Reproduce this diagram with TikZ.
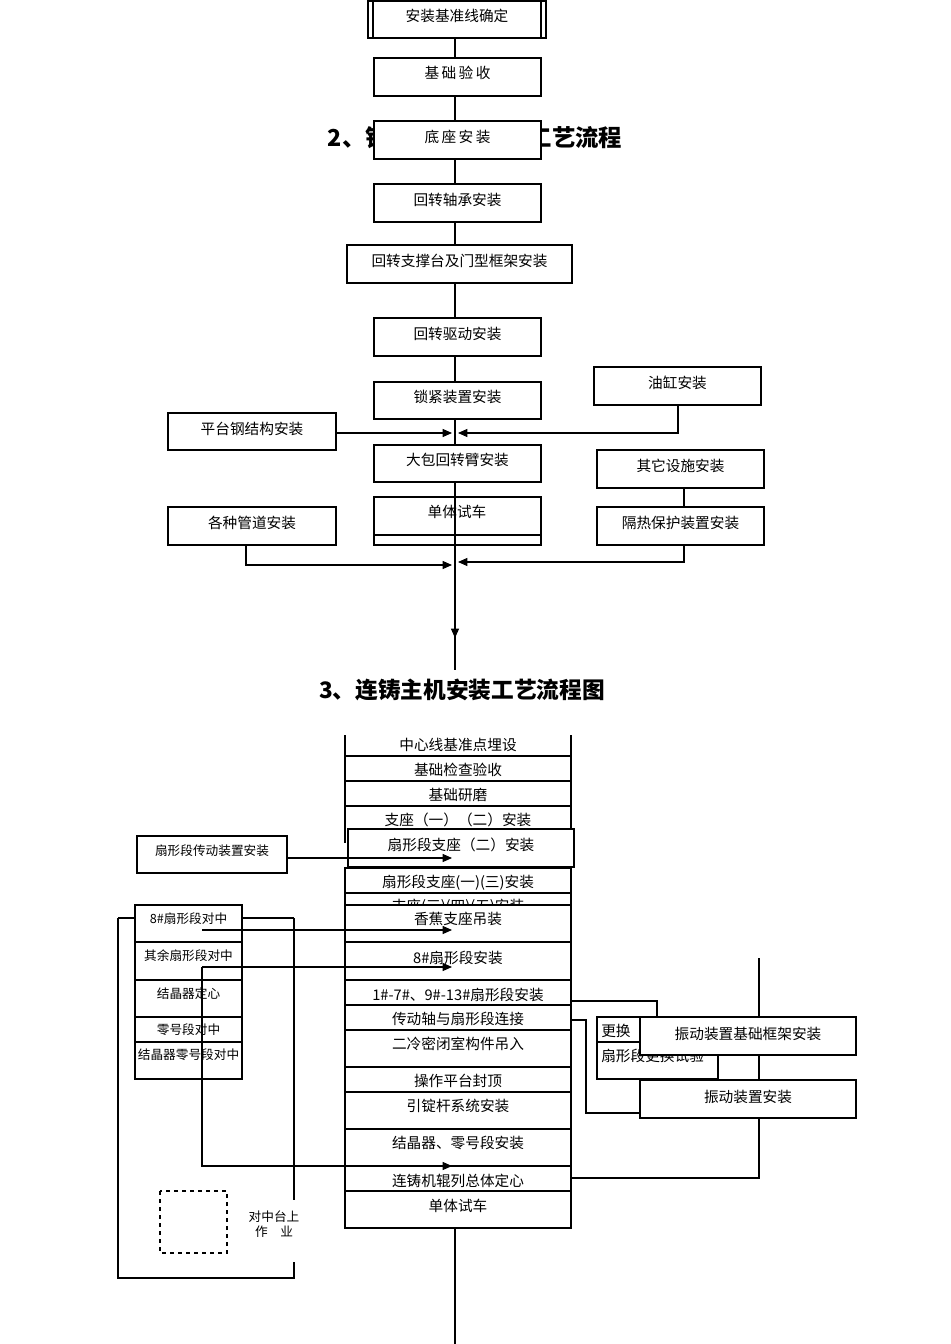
\documentclass[tikz,border=0pt]{standalone}
\usepackage{fontspec}
\setmainfont{Liberation Serif}
\newfontfamily\cjk{Noto Sans CJK SC}
\usetikzlibrary{arrows.meta}
\tikzset{
 bx/.style={draw,fill=white,line width=0.9pt},
 t/.style={font=\cjk\fontsize{11}{13}\selectfont,inner sep=0pt},
 ts/.style={font=\cjk\fontsize{9.5}{11}\selectfont,inner sep=0pt},
 ln/.style={line width=0.8pt},
 ar/.style={line width=0.8pt,-{Triangle[length=7pt,width=6pt]}},
}
\newcommand{\bxx}[7][t]{\draw[bx] (#3,#4) rectangle (#5,#6); \node[#1] (#2) at ({(#3+#5)/2},{(#4+#6)/2}) {#7};}
\newcommand{\bxt}[8][t]{\draw[bx] (#3,#4) rectangle (#5,#6); \node[#1] (#2) at ({(#3+#5)/2},#8) {#7};}
\begin{document}
\begin{tikzpicture}[x=0.75pt,y=-0.75pt]
\useasboundingbox (0,0) rectangle (950,1344);
% ---------- top section ----------
\draw[ln] (455,38) -- (455,670);
\node[font=\cjk\bfseries\fontsize{17.5}{19}\selectfont] (t2) at (475,137) {2、钢包回转台安装工艺流程};
\draw[bx] (368,1) rectangle (546,38); \draw[ln] (373,1) -- (373,38) (541,1) -- (541,38);
\node[t] (a1) at (457,16) {安装基准线确定};
\bxt{a2}{374}{58}{541}{96}{基\,础\,验\,收}{73}
\bxt{a3}{374}{121}{541}{159}{底\,座\,安\,装}{137}
\bxt{a4}{374}{184}{541}{222}{回转轴承安装}{200}
\bxt{a5}{347}{245}{572}{283}{回转支撑台及门型框架安装}{261}
\bxt{a6}{374}{318}{541}{356}{回转驱动安装}{334}
\bxt{a7}{374}{382}{541}{419}{锁紧装置安装}{397}
\bxt{b1}{594}{367}{761}{405}{油缸安装}{383}
\bxt{c1}{168}{413}{336}{450}{平台钢结构安装}{429}
\bxt{a8}{374}{445}{541}{482}{大包回转臂安装}{460}
\bxt{b2}{597}{450}{764}{488}{其它设施安装}{466}
\draw[bx] (374,497) rectangle (541,545); \draw[ln] (374,535) -- (541,535);
\node[t] (a9) at (457,512) {单体试车};
\bxt{c2}{168}{507}{336}{545}{各种管道安装}{523}
\bxt{b3}{597}{507}{764}{545}{隔热保护装置安装}{523}
\draw[ln] (455,482) -- (455,545);
\draw[ar] (336,433) -- (452,433);
\draw[ar] (678,405) -- (678,433) -- (458,433);
\draw[ln] (684,488) -- (684,507);
\draw[ar] (246,545) -- (246,565) -- (452,565);
\draw[ar] (684,545) -- (684,562) -- (458,562);
\draw[ar] (455,545) -- (455,638);
\node[font=\bfseries\cjk\fontsize{17}{19}\selectfont] (t3) at (462,690) {3、连铸主机安装工艺流程图};
% ---------- bottom section ----------
\draw[ln] (455,1228) -- (455,1344);
\draw[ln] (345,735) -- (345,843) (571,735) -- (571,843);
\foreach \y in {756,781,806} \draw[ln] (345,\y) -- (571,\y);
\node[t] (m1) at (458,745) {中心线基准点埋设};
\node[t] (m2) at (458,770) {基础检查验收};
\node[t] (m3) at (458,795) {基础研磨};
\node[t] (m4) at (458,820) {支座（一）（二）安装};
\bxt{m5}{348}{829}{574}{867}{扇形段支座（二）安装}{845}
\draw[bx] (345,868) rectangle (571,905); \draw[ln] (345,893) -- (571,893);
\node[t] (m6) at (458,883) {扇形段支座(一)(三)安装};
\begin{scope}\clip (345,893) rectangle (571,905);
\node[t] at (458,907) {支座(三)(四)(五)安装};\end{scope}
\bxt{m7}{345}{905}{571}{942}{香蕉支座吊装}{919}
\bxt{m8}{345}{942}{571}{980}{8\#扇形段安装}{958}
\bxt{m9}{345}{980}{571}{1005}{1\#-7\#、9\#-13\#扇形段安装}{995}
\bxt{m10}{345}{1005}{571}{1030}{传动轴与扇形段连接}{1019}
\bxt{m11}{345}{1030}{571}{1067}{二冷密闭室构件吊入}{1044}
\bxt{m12}{345}{1067}{571}{1092}{操作平台封顶}{1081}
\bxt{m13}{345}{1092}{571}{1129}{引锭杆系统安装}{1106}
\bxt{m14}{345}{1129}{571}{1166}{结晶器、零号段安装}{1143}
\bxt{m15}{345}{1166}{571}{1191}{连铸机辊列总体定心}{1181}
\bxt{m16}{345}{1191}{571}{1228}{单体试车}{1206}
% left
\bxt[ts]{l0}{137}{836}{287}{873}{扇形段传动装置安装}{851}
\draw[ar] (287,858) -- (452,858);
\draw[ln] (118,918) -- (135,918) (242,918) -- (294,918);
\draw[ln] (118,918) -- (118,1278) -- (294,1278) -- (294,1262);
\draw[ln] (294,918) -- (294,1200);
\bxt[ts]{l1}{135}{905}{242}{942}{8\#扇形段对中}{919}
\bxt[ts]{l2}{135}{942}{242}{980}{其余扇形段对中}{956}
\bxt[ts]{l3}{135}{980}{242}{1017}{结晶器定心}{994}
\bxt[ts]{l4}{135}{1017}{242}{1042}{零号段对中}{1030}
\bxt[ts]{l5}{135}{1042}{242}{1079}{结晶器零号段对中}{1055}
\draw[ar] (202,930) -- (452,930);
\draw[ar] (202,967) -- (452,967);
\draw[ar] (202,967) -- (202,1166) -- (452,1166);
\draw[line width=0.8pt,dashed] (160,1191) rectangle (227,1253);
\node[ts,align=center] (lab) at (274,1224) {对中台上\\作\quad 业};
% right
\draw[ln] (571,1001) -- (657,1001) -- (657,1020);
\draw[ln] (571,1020) -- (586,1020) -- (586,1113) -- (640,1113);
\draw[bx] (597,1017) rectangle (718,1079); \draw[ln] (597,1042) -- (718,1042);
\node[t,anchor=west] (r0) at (601,1031) {更换};
\node[t,anchor=west] (r1) at (601,1056) {扇形段更换试验};
\draw[ln] (759,958) -- (759,1017) (759,1055) -- (759,1080) (759,1118) -- (759,1178) -- (571,1178);
\bxt{r2}{640}{1017}{856}{1055}{振动装置基础框架安装}{1034}
\bxt{r3}{640}{1080}{856}{1118}{振动装置安装}{1097}
\end{tikzpicture}
\end{document}
